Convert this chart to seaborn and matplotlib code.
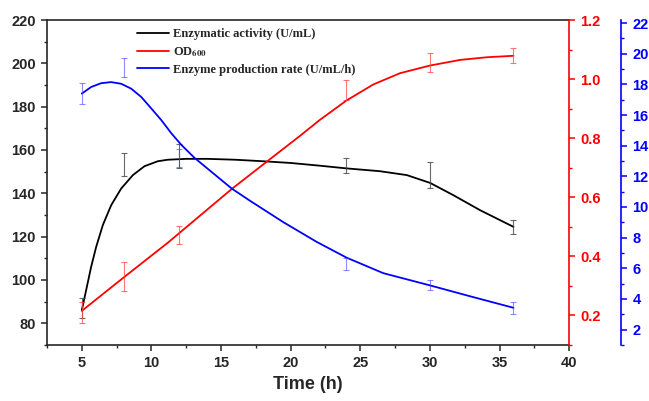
import matplotlib
matplotlib.use("Agg")
import matplotlib.pyplot as plt
import matplotlib.ticker as mticker
from matplotlib.lines import Line2D
import seaborn as sns

# measured points (mean, error)
time = [5, 8, 12, 24, 30, 36]
activity = [87, 153.2, 157.3, 152.8, 148.4, 124.4]
activity_err = [4.6, 5.3, 5.4, 3.4, 6.0, 3.3]
od600 = [0.21, 0.33, 0.472, 0.963, 1.056, 1.08]
od600_err = [0.035, 0.049, 0.032, 0.034, 0.032, 0.025]
rate = [17.4, 19.1, 13.2, 6.3, 4.9, 3.4]
rate_err = [0.68, 0.62, 0.6, 0.4, 0.33, 0.38]

# fitted curves
act_fit_t = [5.0, 5.31, 5.67, 6.03, 6.51, 7.11, 7.83, 8.67, 9.5, 10.46, 11.18, 12.5, 14.0, 16.0, 18.0,
             20.0, 22.0, 24.0, 26.4, 28.34, 30.01, 31.69, 33.6, 36.0]
act_fit = [86.0, 95.2, 106.0, 115.2, 125.3, 134.5, 142.2, 148.4, 152.5, 154.8, 155.5, 155.9, 155.9, 155.5, 154.8,
           154.0, 152.8, 151.5, 150.2, 148.4, 144.8, 139.1, 132.2, 124.5]
od_fit_t = [5.0, 8.0, 11.18, 15.77, 18.3, 20.7, 22.1, 24.02, 25.94, 27.85, 30.01, 32.17, 34.09, 36.0]
od_fit = [0.215, 0.328, 0.446, 0.628, 0.721, 0.809, 0.862, 0.928, 0.982, 1.020, 1.046, 1.065, 1.074, 1.079]
rate_fit_t = [5.0, 5.67, 6.39, 7.11, 7.83, 8.55, 9.27, 9.99, 10.7, 11.42, 12.14, 13.1, 15.77, 17.07, 19.47,
              21.87, 24.02, 26.65, 30.01, 32.89, 36.0]
rate_fit = [17.4, 17.83, 18.08, 18.15, 18.04, 17.72, 17.18, 16.43, 15.68, 14.82, 14.06, 13.2, 11.2, 10.41, 9.01,
            7.72, 6.69, 5.68, 4.88, 4.17, 3.42]

sns.set_style("ticks")
plt.rcParams['font.family'] = ['Liberation Sans', 'DejaVu Sans']
plt.rcParams['font.weight'] = 'bold'
plt.rcParams['mathtext.fontset'] = 'stix'
plt.rcParams['axes.linewidth'] = 1.2
plt.rcParams['xtick.major.width'] = 1.1
plt.rcParams['ytick.major.width'] = 1.1
plt.rcParams['xtick.minor.width'] = 1.0
plt.rcParams['ytick.minor.width'] = 1.0
plt.rcParams['xtick.major.size'] = 4.5
plt.rcParams['ytick.major.size'] = 4.5
plt.rcParams['xtick.minor.size'] = 2.5
plt.rcParams['ytick.minor.size'] = 2.5

fig = plt.figure(figsize=(6.49, 4.01), dpi=100)
ax = fig.add_axes([0.0724, 0.140, 0.8046, 0.810])
ax2 = ax.twinx()
ax3 = ax.twinx()

# enzymatic activity (left axis)
sns.lineplot(x=act_fit_t, y=act_fit, ax=ax, color='black', linewidth=1.3)
ax.errorbar(time, activity, yerr=activity_err, fmt='none', ecolor='#444444',
            elinewidth=0.8, capsize=2.5, capthick=0.8, alpha=0.8)

# OD600 (red axis)
sns.lineplot(x=od_fit_t, y=od_fit, ax=ax2, color='red', linewidth=1.3)
ax2.errorbar(time, od600, yerr=od600_err, fmt='none', ecolor='#ff4040',
             elinewidth=0.8, capsize=2.5, capthick=0.8, alpha=0.7)

# production rate (blue axis)
sns.lineplot(x=rate_fit_t, y=rate_fit, ax=ax3, color='blue', linewidth=1.3)
ax3.errorbar(time, rate, yerr=rate_err, fmt='none', ecolor='#4040ff',
             elinewidth=0.8, capsize=2.5, capthick=0.8, alpha=0.6)

ax.set_xlim(2.5, 40)
ax.set_ylim(70, 220)
ax2.set_ylim(0.1, 1.2)
ax3.set_ylim(1, 22.2)

ax.xaxis.set_major_locator(mticker.MultipleLocator(5))
ax.xaxis.set_minor_locator(mticker.MultipleLocator(2.5))
ax.yaxis.set_major_locator(mticker.MultipleLocator(20))
ax.yaxis.set_minor_locator(mticker.MultipleLocator(10))
ax2.yaxis.set_major_locator(mticker.MultipleLocator(0.2))
ax2.yaxis.set_minor_locator(mticker.MultipleLocator(0.1))
ax2.yaxis.set_major_formatter(mticker.FormatStrFormatter('%.1f'))
ax3.yaxis.set_major_locator(mticker.MultipleLocator(2))
ax3.yaxis.set_minor_locator(mticker.MultipleLocator(1))

ax.tick_params(axis='both', which='both', direction='out', labelsize=10.5)
ax2.tick_params(axis='y', which='both', colors='red', labelsize=10.5)
ax3.tick_params(axis='y', which='both', colors='blue', labelsize=10.5)

ax.spines['top'].set_visible(True)
ax.spines['right'].set_visible(False)
ax2.spines['right'].set_color('red')
ax2.spines['left'].set_visible(False)
ax2.spines['top'].set_visible(False)
ax2.spines['bottom'].set_visible(False)
ax3.spines['right'].set_position(('outward', 37.5))
ax3.spines['right'].set_color('blue')
for s in ['left', 'top', 'bottom']:
    ax3.spines[s].set_visible(False)

ax.set_xlabel('Time (h)', fontsize=13, fontweight='bold', labelpad=4)
ax.set_ylabel('')
ax2.set_ylabel('')
ax3.set_ylabel('')

handles = [Line2D([], [], color='black', linewidth=1.3),
           Line2D([], [], color='red', linewidth=1.3),
           Line2D([], [], color='blue', linewidth=1.3)]
labels = ['Enzymatic activity (U/mL)', r'OD$_{\mathbf{600}}$', 'Enzyme production rate (U/mL/h)']
ax3.legend(handles, labels, loc='upper left', bbox_to_anchor=(0.15, 1.01), frameon=False,
           handlelength=2.6, handletextpad=0.3, labelspacing=0.4,
           prop={'family': 'Liberation Serif', 'weight': 'bold', 'size': 9})

fig.savefig('out.png', dpi=100)
